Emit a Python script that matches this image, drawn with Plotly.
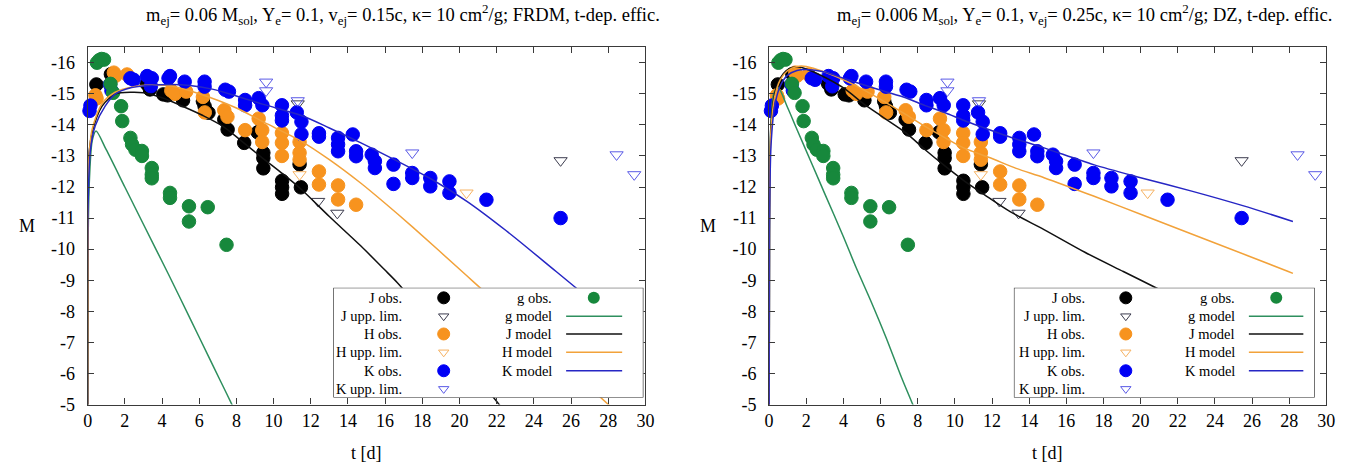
import plotly.graph_objects as go

FONT = "Liberation Serif, Times New Roman, serif"

# ---------------- observed photometry: t [d], absolute magnitude ----------------
j_obs_t = [0.47, 1.25, 3.18, 3.35, 4.07, 4.3, 5.13, 6.2, 6.29, 6.5, 7.35, 7.53, 8.42, 9.15,
           9.45, 9.45, 9.45, 10.46, 10.46, 10.46, 11.4, 11.47]
j_obs_m = [-15.3, -15.63, -15.32, -15.14, -14.98, -14.95, -14.79, -14.76, -14.6, -14.39, -14.17,
           -13.85, -13.42, -13.76, -13.1, -12.93, -12.6, -12.2, -11.99, -11.78, -12.73, -11.99]

h_obs_t = [0.42, 0.48, 1.41, 1.5, 2.12, 4.5, 4.7, 5.3, 6.2, 6.3, 7.35, 7.52, 8.47, 9.2, 9.39,
           9.39, 10.45, 10.45, 10.45, 11.4, 11.4, 11.4, 12.44, 12.44, 13.47, 13.47, 14.44]
h_obs_m = [-14.95, -14.85, -15.68, -15.58, -15.62, -15.1, -15.0, -15.07, -14.9, -14.4, -14.47,
           -14.26, -13.83, -14.2, -13.83, -13.45, -13.74, -13.42, -13.0, -13.45, -13.1, -12.88,
           -12.5, -12.08, -12.05, -11.6, -11.43]

k_obs_t = [0.1, 0.15, 1.2, 1.28, 2.3, 2.48, 3.2, 3.45, 3.4, 4.35, 4.43, 5.22, 6.29, 6.29, 7.4,
           7.6, 8.47, 8.47, 9.2, 9.4, 10.45, 10.45, 10.45, 11.25, 11.5, 11.5, 12.44, 12.44,
           13.47, 13.47, 13.47, 14.26, 14.44, 14.44, 15.28, 15.45, 15.45, 16.45, 16.45, 17.46,
           17.46, 18.43, 18.43, 19.46, 19.46, 21.45, 25.44]
k_obs_m = [-14.45, -14.62, -15.3, -15.1, -15.5, -15.45, -15.57, -15.5, -15.24, -15.5, -15.57,
           -15.39, -15.39, -15.23, -15.13, -15.07, -14.8, -14.63, -14.86, -14.63, -14.63, -14.3,
           -14.14, -14.4, -14.1, -13.7, -13.73, -13.62, -13.58, -13.37, -13.15, -13.69, -13.15,
           -12.99, -13.04, -12.83, -12.61, -12.72, -12.1, -12.45, -12.29, -12.29, -12.02,
           -12.18, -11.81, -11.59, -11.0]

g_obs_t = [0.5, 0.62, 0.75, 0.88, 1.23, 1.37, 1.8, 1.86, 2.3, 2.39, 2.57, 2.92, 2.92, 3.45,
           3.45, 3.45, 4.43, 4.43, 5.45, 5.45, 6.46, 7.47]
g_obs_m = [-16.0, -16.08, -16.12, -16.1, -15.32, -15.03, -14.6, -14.12, -13.58, -13.37, -13.2,
           -13.16, -13.0, -12.61, -12.4, -12.28, -11.81, -11.65, -11.38, -10.89, -11.35, -10.14]

# upper limits
j_lim_t = [11.3, 12.4, 13.43, 25.44]
j_lim_m = [-14.68, -11.54, -11.16, -12.85]
h_lim_t = [11.4, 20.38]
h_lim_m = [-12.4, -11.81]
k_lim_t = [9.6, 9.6, 11.3, 17.46, 28.45, 29.4]
k_lim_m = [-15.38, -15.1, -14.78, -13.1, -13.04, -12.4]

# ---------------- model light curves, FRDM (m_ej = 0.06 Msol) ----------------
frdm_g_t = [0, 0.02, 0.1, 0.25, 0.45, 1.0, 2.0, 3.0, 4.34, 5.5, 6.5, 7.15, 7.8, 8.2]
frdm_g_m = [-3, -10.0, -12.3, -13.5, -13.8, -13.2, -12.0, -10.8, -9.2, -7.78, -6.55, -5.75,
            -4.95, -4.45]
frdm_j_t = [0, 0.02, 0.05, 0.24, 0.77, 1.48, 2.37, 3.0, 4.0, 5.1, 6.2, 7.26, 8.3, 9.39, 10.5,
            11.5, 13.0, 14.7, 15.95, 16.66, 18.5, 20.2, 21.8, 22.5]
frdm_j_m = [-3, -10.5, -12.9, -13.75, -14.6, -14.99, -15.05, -15.03, -14.87, -14.6, -14.3,
            -13.96, -13.47, -12.94, -12.42, -11.92, -11.05, -10.1, -9.35, -8.92, -7.65, -6.43,
            -5.25, -4.72]
frdm_h_t = [0, 0.02, 0.05, 0.24, 0.77, 1.48, 2.4, 3.5, 4.5, 6.0, 7.97, 9.5, 11.5, 13.0, 14.7,
            15.95, 17.5, 20.38, 21.1, 24.0, 26.0, 28.1]
frdm_h_m = [-3, -10.8, -12.7, -13.85, -14.68, -15.05, -15.22, -15.28, -15.25, -15.0, -14.55,
            -14.08, -13.47, -12.88, -12.12, -11.5, -10.7, -9.15, -8.76, -7.2, -6.1, -4.95]
frdm_k_t = [0, 0.02, 0.15, 0.41, 0.95, 1.48, 2.37, 3.26, 4.5, 5.5, 6.7, 8.0, 9.5, 11.5, 13.0,
            14.7, 16.5, 18.5, 20.4, 22.5, 25.2, 28.2]
frdm_k_m = [-3, -11.3, -13.2, -13.97, -14.61, -14.99, -15.2, -15.27, -15.3, -15.27, -15.15,
            -14.93, -14.65, -14.3, -13.9, -13.42, -12.88, -12.25, -11.54, -10.6, -9.28, -7.8]

# ---------------- model light curves, DZ (m_ej = 0.006 Msol) ----------------
dz_g_t = [0, 0.02, 0.1, 0.25, 0.48, 1.0, 1.5, 2.3, 3.0, 4.0, 4.69, 5.5, 6.3, 7.14, 7.7, 8.1]
dz_g_m = [-3, -11.0, -14.0, -15.0, -15.2, -14.55, -13.85, -12.75, -11.78, -10.4, -9.4, -8.3,
          -7.15, -5.85, -5.05, -4.5]
dz_j_t = [0, 0.02, 0.1, 0.3, 0.6, 1.0, 1.5, 2.0, 3.1, 4.1, 5.04, 6.0, 7.35, 8.4, 9.48, 10.5,
          11.6, 13.0, 14.8, 17.0, 19.07, 20.85, 24.0, 28.2]
dz_j_m = [-3, -11.0, -14.0, -15.0, -15.5, -15.78, -15.87, -15.8, -15.5, -15.15, -14.7, -14.3,
          -13.75, -13.2, -12.67, -12.2, -11.75, -11.2, -10.63, -9.9, -9.28, -8.75, -7.8, -6.6]
dz_h_t = [0, 0.02, 0.1, 0.3, 0.6, 1.0, 1.5, 2.0, 3.0, 4.0, 5.04, 6.2, 7.35, 8.4, 9.48, 10.5,
          11.9, 13.3, 14.8, 17.5, 20.14, 24.0, 27.95, 28.2]
dz_h_m = [-3, -10.8, -13.8, -14.9, -15.45, -15.75, -15.88, -15.88, -15.7, -15.45, -15.14,
          -14.75, -14.34, -13.95, -13.58, -13.25, -12.94, -12.6, -12.3, -11.7, -11.09, -10.2,
          -9.28, -9.22]
dz_k_t = [0, 0.02, 0.1, 0.3, 0.6, 1.0, 1.5, 2.0, 3.0, 4.0, 5.04, 6.2, 7.35, 8.4, 9.48, 10.5,
          11.6, 13.0, 14.8, 17.47, 20.0, 22.8, 25.5, 28.2]
dz_k_m = [-3, -10.5, -13.3, -14.6, -15.25, -15.6, -15.75, -15.78, -15.7, -15.5, -15.3, -15.08,
          -14.87, -14.62, -14.39, -14.14, -13.9, -13.6, -13.26, -12.72, -12.3, -11.86, -11.4,
          -10.89]

# ---------------- axes ticks and labels ----------------
t_ticks = list(range(0, 31, 2))
m_ticks = list(range(-16, -4))
m_tick_text = [str(v) for v in m_ticks]

titles = [
    "m<sub>ej</sub>= 0.06 M<sub>sol</sub>, Y<sub>e</sub>= 0.1, v<sub>ej</sub>= 0.15c, "
    "κ= 10 cm<sup>2</sup>/g; FRDM, t-dep. effic.",
    "m<sub>ej</sub>= 0.006 M<sub>sol</sub>, Y<sub>e</sub>= 0.1, v<sub>ej</sub>= 0.25c, "
    "κ= 10 cm<sup>2</sup>/g; DZ, t-dep. effic.",
]
left_keys = ["J obs.", "J upp. lim.", "H obs.", "H upp. lim.", "K obs.", "K upp. lim."]
right_keys = ["g obs.", "g model", "J model", "H model", "K model"]

# ---------------- styling ----------------
C_J, C_H, C_K, C_G = "#000000", "#F7931E", "#0000F5", "#17883C"
C_JL, C_HL, C_KL = "#3C3C4E", "#F6B262", "#5A5AE6"
C_GM, C_JM, C_HM, C_KM = "#2E8F5E", "#111111", "#F2A23A", "#2626C4"
DOT, TRI = 13.5, 11.5
LW = 1.5

W, H = 1369, 470


def fx(px):
    return px / W


def fy(px):
    return 1 - px / H


fig = go.Figure()

panels = [
    dict(xa="x", ya="y", lx="x3", ly="y3", xdom=(83.5, 647), box=(331.7, 645),
         cols=(0.2285, 0.356, 0.7127, 0.7508, 0.9315, 0.84), cx=402, mx=22, tx=365,
         models=[(frdm_g_t, frdm_g_m, C_GM), (frdm_j_t, frdm_j_m, C_JM),
                 (frdm_h_t, frdm_h_m, C_HM), (frdm_k_t, frdm_k_m, C_KM)]),
    dict(xa="x2", ya="y2", lx="x4", ly="y4", xdom=(772, 1335), box=(1019.3, 1323.3),
         cols=(0.2434, 0.372, 0.7424, 0.781, 0.962, 0.872), cx=1091, mx=710, tx=1053.5,
         models=[(dz_g_t, dz_g_m, C_GM), (dz_j_t, dz_j_m, C_JM),
                 (dz_h_t, dz_h_m, C_HM), (dz_k_t, dz_k_m, C_KM)]),
]

obs_sets = [
    (j_obs_t, j_obs_m, "circle", DOT, C_J),
    (j_lim_t, j_lim_m, "triangle-down-open", TRI, C_JL),
    (h_obs_t, h_obs_m, "circle", DOT, C_H),
    (h_lim_t, h_lim_m, "triangle-down-open", TRI, C_HL),
    (k_obs_t, k_obs_m, "circle", DOT, C_K),
    (k_lim_t, k_lim_m, "triangle-down-open", TRI, C_KL),
    (g_obs_t, g_obs_m, "circle", DOT, C_G),
]

axis_common = dict(showline=True, linecolor="#3A3A3A", linewidth=1.2, mirror="ticks",
                   ticks="inside", ticklen=6, tickwidth=1, tickcolor="#3A3A3A",
                   showgrid=False, zeroline=False,
                   tickfont=dict(family=FONT, size=18, color="black"))

# vertical layout positions (px from top)
PLOT_TOP, PLOT_BOTTOM = 48.2, 413.3
KEY_TOP, KEY_BOTTOM = 294.0, 406.2
TITLE_Y, MLABEL_Y, TLABEL_Y = 15.0, 230.8, 463.0

ydom = (fy(PLOT_BOTTOM), fy(PLOT_TOP))
leg_ydom = (fy(KEY_BOTTOM), fy(KEY_TOP))
rows = [0.908, 0.741, 0.579, 0.412, 0.244, 0.079]

annotations = []
layout_axes = {}

for i, p in enumerate(panels):
    # observations
    for t, m, sym, size, col in obs_sets:
        fig.add_trace(go.Scatter(
            x=t, y=m, mode="markers", xaxis=p["xa"], yaxis=p["ya"], cliponaxis=False,
            marker=dict(symbol=sym, size=size, color=col, line=dict(color=col, width=1)),
            showlegend=False, hoverinfo="skip"))
    # models
    for t, m, col in p["models"]:
        fig.add_trace(go.Scatter(
            x=t, y=m, mode="lines", xaxis=p["xa"], yaxis=p["ya"],
            line=dict(color=col, width=LW, shape="spline", smoothing=0.8),
            showlegend=False, hoverinfo="skip"))

    # key box (white, framed) on its own overlay axes
    fig.add_trace(go.Scatter(
        x=[0, 1, 1, 0, 0], y=[0, 0, 1, 1, 0], mode="lines", fill="toself",
        fillcolor="white", line=dict(color="#222222", width=1.2),
        xaxis=p["lx"], yaxis=p["ly"], showlegend=False, hoverinfo="skip"))
    txt_l, sym_l, txt_r, ln0, ln1, sym_r = p["cols"]
    for k, (lab, (_, _, sym, size, col)) in enumerate(zip(left_keys, obs_sets[:6])):
        fig.add_trace(go.Scatter(
            x=[sym_l], y=[rows[k]], mode="markers", xaxis=p["lx"], yaxis=p["ly"],
            marker=dict(symbol=sym, size=12 if sym == "circle" else 9, color=col,
                        line=dict(color=col, width=1)),
            showlegend=False, hoverinfo="skip"))
        annotations.append(dict(text=lab, x=txt_l, y=rows[k], xref=p["lx"], yref=p["ly"],
                                xanchor="right", yanchor="middle", showarrow=False,
                                font=dict(family=FONT, size=14.5, color="black")))
    fig.add_trace(go.Scatter(
        x=[sym_r], y=[rows[0]], mode="markers", xaxis=p["lx"], yaxis=p["ly"],
        marker=dict(symbol="circle", size=12, color=C_G),
        showlegend=False, hoverinfo="skip"))
    for k, (lab, (_, _, col)) in enumerate(zip(right_keys[1:], p["models"])):
        fig.add_trace(go.Scatter(
            x=[ln0, ln1], y=[rows[k + 1]] * 2, mode="lines", xaxis=p["lx"], yaxis=p["ly"],
            line=dict(color=col, width=LW), showlegend=False, hoverinfo="skip"))
    for k, lab in enumerate(right_keys):
        annotations.append(dict(text=lab, x=txt_r, y=rows[k], xref=p["lx"], yref=p["ly"],
                                xanchor="right", yanchor="middle", showarrow=False,
                                font=dict(family=FONT, size=14.5, color="black")))

    # titles and axis labels
    annotations.append(dict(text=titles[i], x=fx(p["cx"]), y=fy(TITLE_Y), xref="paper",
                            yref="paper", xanchor="center", yanchor="middle",
                            showarrow=False, font=dict(family=FONT, size=18.5, color="black")))
    annotations.append(dict(text="M", x=fx(p["mx"]), y=fy(MLABEL_Y), xref="paper",
                            yref="paper", xanchor="center", yanchor="middle",
                            showarrow=False, font=dict(family=FONT, size=18, color="black")))
    annotations.append(dict(text="t [d]", x=fx(p["tx"]), y=fy(TLABEL_Y), xref="paper",
                            yref="paper", xanchor="center", yanchor="middle",
                            showarrow=False, font=dict(family=FONT, size=18, color="black")))

    xn = p["xa"].replace("x", "xaxis")
    yn = p["ya"].replace("y", "yaxis")
    layout_axes[xn] = dict(domain=[fx(p["xdom"][0]), fx(p["xdom"][1])], range=[0, 30],
                           tickvals=t_ticks, ticktext=[str(v) for v in t_ticks],
                           anchor=p["ya"], ticklabelstandoff=0, **axis_common)
    layout_axes[yn] = dict(domain=list(ydom), range=[-5, -16.5], tickvals=m_ticks,
                           ticktext=m_tick_text, anchor=p["xa"], ticklabelstandoff=8,
                           **axis_common)
    lxn = p["lx"].replace("x", "xaxis")
    lyn = p["ly"].replace("y", "yaxis")
    layout_axes[lxn] = dict(domain=[fx(p["box"][0]), fx(p["box"][1])], range=[0, 1],
                            visible=False, anchor=p["ly"], fixedrange=True)
    layout_axes[lyn] = dict(domain=list(leg_ydom), range=[0, 1], visible=False,
                            anchor=p["lx"], fixedrange=True)

fig.update_layout(
    width=W, height=H, margin=dict(l=0, r=0, t=0, b=0),
    paper_bgcolor="white", plot_bgcolor="white", showlegend=False,
    annotations=annotations, **layout_axes)

fig.write_html("out.html")
